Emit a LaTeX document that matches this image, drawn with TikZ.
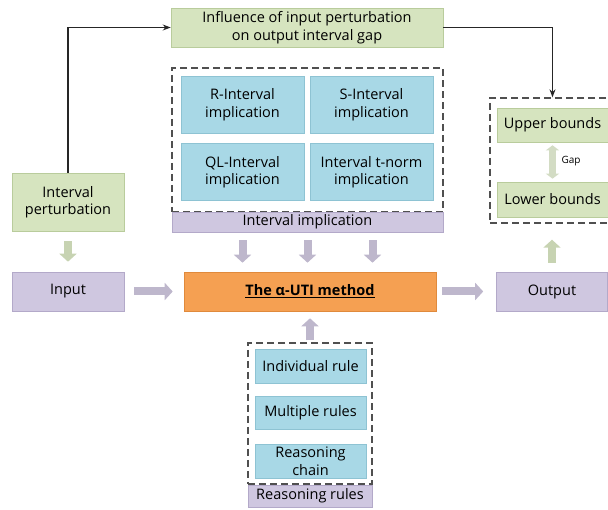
\documentclass[tikz,border=0pt]{standalone}
\usepackage{fontspec}
\setmainfont{Open Sans}
\usepackage{tikz}
\usetikzlibrary{arrows.meta, positioning}

\definecolor{boxgreen}{HTML}{D6E4BF}
\definecolor{edgegreen}{HTML}{B9CC9C}
\definecolor{boxpurple}{HTML}{CFC7E0}
\definecolor{edgepurple}{HTML}{B3A9C9}
\definecolor{boxblue}{HTML}{A8D8E6}
\definecolor{edgeblue}{HTML}{8EC3D3}
\definecolor{boxorange}{HTML}{F5A052}
\definecolor{edgeorange}{HTML}{E08A3C}
\definecolor{dashgray}{HTML}{505050}
\definecolor{gapgreen}{HTML}{D3DCC4}

\begin{document}
\begin{tikzpicture}[
    x=1pt, y=-1pt,
    >=Stealth,
    every node/.style={font=\fontsize{14.5}{17.5}\selectfont, align=center, inner sep=1pt},
    greenbox/.style={rectangle, fill=boxgreen, draw=edgegreen, line width=0.6pt},
    purplebox/.style={rectangle, fill=boxpurple, draw=edgepurple, line width=0.6pt},
    bluebox/.style={rectangle, fill=boxblue, draw=edgeblue, line width=0.6pt},
    methodbox/.style={rectangle, fill=boxorange, draw=edgeorange, line width=0.6pt},
    group/.style={rectangle, draw=dashgray, line width=1.4pt, dash pattern=on 7pt off 4pt, fill=none, inner sep=0pt},
    fatpurple/.style={draw=boxpurple!90!black!95, line width=8pt, -{Triangle[width=17pt,length=8pt]}},
    fatgreen/.style={draw=boxgreen!92!black!97, line width=8pt, -{Triangle[width=17pt,length=8pt]}},
    gaparrow/.style={draw=gapgreen, line width=6.5pt, {Triangle[width=13pt,length=5pt]}-{Triangle[width=13pt,length=5pt]}},
    thinarrow/.style={draw=black!85, line width=1.1pt, ->}
]
\useasboundingbox (0,0) rectangle (608,510);

% Top box
\node[greenbox, minimum width=272pt, minimum height=39pt] (infl) at (307,27.5)
    {Influence of input perturbation\\on output interval gap};

% Interval implication group
\node[group, minimum width=271pt, minimum height=144pt] (implgrp) at (307.5,140) {};
\node[bluebox, minimum width=123pt, minimum height=57pt] (rint) at (242.5,104.5) {R-Interval\\implication};
\node[bluebox, minimum width=123pt, minimum height=57pt] (sint) at (371.5,104.5) {S-Interval\\implication};
\node[bluebox, minimum width=123pt, minimum height=57pt] (qlint) at (242.5,172) {QL-Interval\\implication};
\node[bluebox, minimum width=123pt, minimum height=57pt] (tnorm) at (371.5,172) {Interval t-norm\\implication};
\node[purplebox, minimum width=271pt, minimum height=20pt] (impllab) at (307.5,222) {Interval implication};

% Left column
\node[greenbox, minimum width=112pt, minimum height=58pt] (ptb) at (68,202) {Interval\\perturbation};
\node[purplebox, minimum width=112pt, minimum height=39pt] (input) at (68,291.5) {Input};

% Middle row
\node[methodbox, minimum width=252pt, minimum height=39pt] (method) at (310,291.5)
    {\bfseries\underline{The α-UTI method}};
\node[purplebox, minimum width=111pt, minimum height=39pt] (output) at (552,291.5) {Output};

% Output bounds group
\node[group, minimum width=122pt, minimum height=125pt] (boundgrp) at (551,160.5) {};
\node[greenbox, minimum width=111pt, minimum height=34pt] (upper) at (552.5,125) {Upper bounds};
\node[greenbox, minimum width=111pt, minimum height=35pt] (lower) at (552.5,199.5) {Lower bounds};
\node[font=\fontsize{10}{12}\selectfont] (gap) at (571,161) {Gap};

% Reasoning rules group
\node[group, minimum width=124pt, minimum height=141pt] (rulegrp) at (310,413.5) {};
\node[bluebox, minimum width=111pt, minimum height=34pt] (indiv) at (310.5,366) {Individual rule};
\node[bluebox, minimum width=111pt, minimum height=33pt] (multi) at (310.5,412.5) {Multiple rules};
\node[bluebox, minimum width=111pt, minimum height=34pt] (chain) at (310.5,461.5) {Reasoning\\chain};
\node[purplebox, minimum width=124pt, minimum height=22pt] (rulelab) at (310,496) {Reasoning rules};

% Thin connectors
\draw[thinarrow] (ptb.north) |- (infl.west);
\draw[thinarrow] (infl.east) -| (boundgrp.north -| upper.north);

% Block arrows
\draw[fatgreen] ([yshift=-10pt]ptb.south) -- ([yshift=10pt]input.north);
\foreach \dx in {-65,0,65}
    \draw[fatpurple] ([xshift=\dx pt, yshift=-8pt]impllab.south) -- ([xshift=\dx pt, yshift=9pt]method.north -| impllab.south);
\draw[fatpurple] ([xshift=10pt]input.east) -- ([xshift=-11pt]method.west);
\draw[fatpurple] ([xshift=6pt]method.east) -- ([xshift=-13pt]output.west);
\draw[fatpurple] ([yshift=2pt]rulegrp.north) -- ([yshift=-7pt]method.south);
\draw[fatgreen] ([yshift=9pt]output.north) -- ([yshift=-16pt]boundgrp.south -| output.north);
\draw[gaparrow] ([yshift=3pt]lower.north) -- ([yshift=-3pt]upper.south);

\end{tikzpicture}
\end{document}
